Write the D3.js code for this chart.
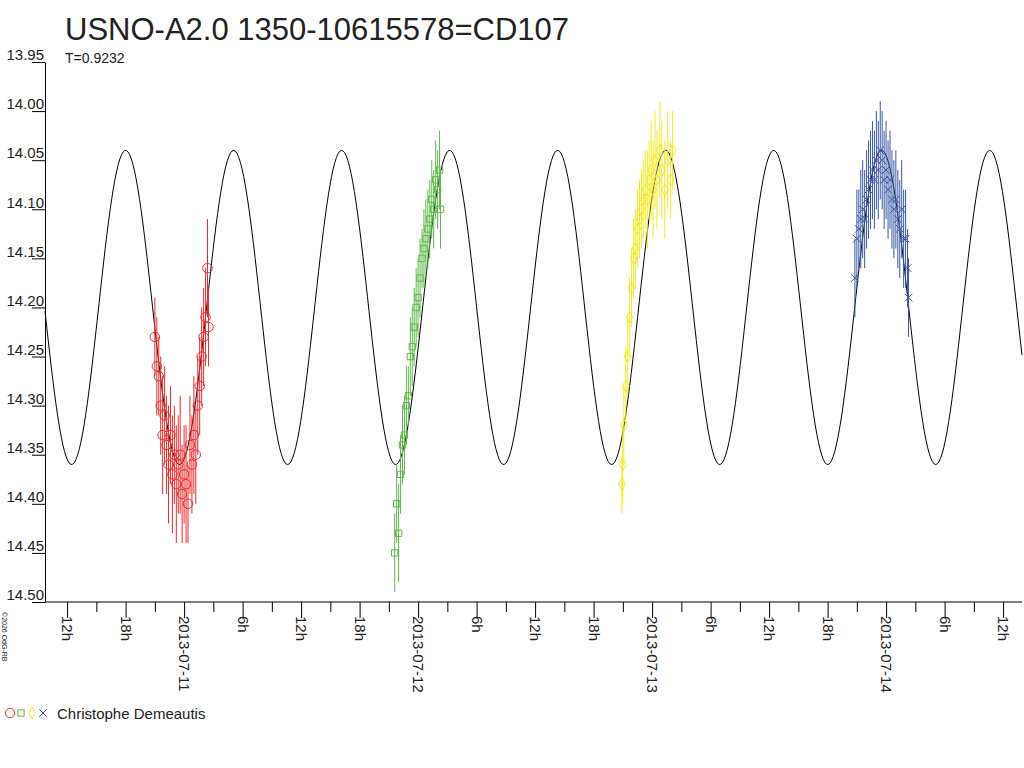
<!DOCTYPE html>
<html><head><meta charset="utf-8">
<script src="https://cdn.jsdelivr.net/npm/d3@7"></script>
<style>body{margin:0;background:#fff;font-family:"Liberation Sans",Arial,sans-serif}</style>
</head><body><div class="lcdiv"></div>
<script>
lcwidth = 1024
lcheight = 768
lcmargin = {top: 62, bottom: 166, left: 45, right: 2}

// hours from midnight of each night's date, magnitude, error
nights = [
 {date: "2013-07-11", color: "#ee2a2a", sym: "circle", pts: [
  [-3.0,14.23,.04],[-2.8,14.26,.05],[-2.6,14.27,.04],[-2.4,14.30,.05],[-2.2,14.33,.06],[-2.0,14.31,.05],
  [-1.8,14.34,.05],[-1.6,14.36,.06],[-1.4,14.33,.05],[-1.2,14.37,.06],[-1.0,14.35,.05],[-0.8,14.38,.06],
  [-0.6,14.36,.05],[-0.4,14.35,.06],[-0.2,14.39,.05],[0.0,14.37,.05],[0.2,14.38,.06],[0.4,14.40,.04],
  [0.6,14.34,.05],[0.8,14.36,.05],[1.0,14.33,.06],[1.2,14.35,.05],[1.4,14.30,.05],[1.6,14.28,.05],
  [1.8,14.25,.05],[2.0,14.23,.05],[2.2,14.21,.05],[2.4,14.16,.05],[2.5,14.22,.04]]},
 {date: "2013-07-12", color: "#5cb84a", sym: "square", pts: [
  [-2.4,14.45,.04],[-2.2,14.40,.04],[-2.0,14.43,.05],[-1.8,14.37,.04],[-1.6,14.34,.04],[-1.4,14.33,.04],
  [-1.2,14.30,.04],[-1.0,14.29,.03],[-0.8,14.25,.04],[-0.6,14.24,.04],[-0.4,14.22,.04],[-0.2,14.20,.04],
  [0.0,14.19,.04],[0.2,14.17,.04],[0.4,14.15,.03],[0.6,14.14,.04],[0.8,14.13,.04],[1.0,14.12,.04],
  [1.2,14.11,.04],[1.4,14.09,.04],[1.6,14.10,.04],[1.8,14.07,.04],[2.0,14.08,.04],[2.2,14.06,.04],[2.3,14.10,.04]]},
 {date: "2013-07-13", color: "#f5e81e", sym: "diamond", pts: [
  [-3.1,14.38,.03],[-3.0,14.36,.04],[-2.9,14.32,.04],[-2.7,14.28,.04],[-2.5,14.25,.04],[-2.3,14.21,.04],
  [-2.1,14.18,.04],[-1.9,14.15,.04],[-1.7,14.14,.04],[-1.5,14.12,.04],[-1.3,14.11,.04],[-1.1,14.10,.04],
  [-0.9,14.09,.04],[-0.7,14.08,.04],[-0.5,14.09,.05],[-0.3,14.07,.04],[-0.1,14.06,.05],[0.1,14.08,.05],[0.3,14.05,.05],
  [0.5,14.07,.05],[0.8,14.04,.05],[1.0,14.06,.05],[1.3,14.08,.05],[1.6,14.05,.05],[1.9,14.07,.04],[2.1,14.04,.04]]},
 {date: "2013-07-14", color: "#3757a5", sym: "cross", pts: [
  [-3.2,14.17,.04],[-3.0,14.13,.05],[-2.8,14.12,.04],[-2.6,14.11,.05],[-2.4,14.10,.05],[-2.2,14.11,.05],
  [-2.0,14.09,.05],[-1.8,14.08,.05],[-1.6,14.07,.05],[-1.4,14.06,.05],[-1.2,14.07,.05],[-1.0,14.05,.05],
  [-0.8,14.06,.05],[-0.6,14.04,.05],[-0.4,14.05,.05],[-0.2,14.07,.05],[0.0,14.06,.05],[0.2,14.08,.05],
  [0.4,14.07,.05],[0.6,14.09,.05],[0.8,14.10,.05],[1.0,14.09,.05],[1.2,14.11,.05],[1.4,14.12,.05],
  [1.6,14.10,.05],[1.8,14.13,.05],[2.0,14.13,.05],[2.2,14.16,.04],[2.3,14.19,.04]]}
]

// model light curve: period and phase of the fitted sine
period = 0.4616
meanmag = 14.20
amp = 0.16
peaktime = new Date(Date.UTC(2013,6,10,18,0))

lcsvg = d3.select(".lcdiv").append("svg")
  .attr("width", lcwidth).attr("height", lcheight)
  .style("font-family", "'Liberation Sans', Arial, sans-serif")

t0 = new Date(Date.UTC(2013,6,10,9,44))
t1 = new Date(t0.getTime() + (lcwidth - lcmargin.left - lcmargin.right) / 234 * 864e5)
xscale = d3.scaleUtc().domain([t0, t1]).range([lcmargin.left, lcwidth - lcmargin.right])
yscale = d3.scaleLinear().domain([13.95, 14.50]).range([lcmargin.top, lcheight - lcmargin.bottom])

// model curve
curvepts = d3.range(0, 601).map(function(i){
  var t = new Date(t0.getTime() + (t1 - t0) * i / 600)
  var ph = (t - peaktime) / 864e5 / period
  return [t, meanmag - amp * Math.cos(2 * Math.PI * ph)]
})
lcsvg.append("path")
  .attr("d", d3.line().x(function(d){ return xscale(d[0]) }).y(function(d){ return yscale(d[1]) })(curvepts))
  .attr("fill", "none").attr("stroke", "#000").attr("stroke-width", 1)

symbols = {circle: d3.symbolCircle, square: d3.symbolSquare, diamond: d3.symbolDiamond, cross: d3.symbolX}
nights.forEach(function(n){
  var base = Date.parse(n.date + "T00:00:00Z")
  var g = lcsvg.append("g")
  n.pts.forEach(function(p){
    var x = xscale(new Date(base + p[0] * 36e5))
    g.append("line").attr("x1", x).attr("x2", x)
      .attr("y1", yscale(p[1] - p[2])).attr("y2", yscale(p[1] + p[2]))
      .attr("stroke", n.color).attr("stroke-width", 1)
    g.append("path").attr("transform", "translate(" + x + "," + yscale(p[1]) + ")")
      .attr("d", d3.symbol().type(symbols[n.sym]).size(n.sym == "circle" ? 70 : 40)())
      .attr("fill", "none").attr("stroke", n.color)
  })
})

// y axis
yaxis = d3.axisLeft(yscale).tickValues(d3.range(13.95, 14.501, 0.05)).tickFormat(d3.format(".2f")).tickSize(0)
yg = lcsvg.append("g").attr("transform", "translate(" + lcmargin.left + ",0)").call(yaxis)
yg.select(".domain").attr("stroke", "#000")
yg.selectAll("text").attr("font-size", 15).attr("fill", "#222").attr("x", -1).attr("dy", "-0.15em")
yg.selectAll(".tick").append("line").attr("x1", -13).attr("x2", 0).attr("stroke", "#000")

// x axis
xaxis = d3.axisBottom(xscale).ticks(d3.utcHour.every(3)).tickSize(10).tickFormat(function(d){
  var h = d.getUTCHours()
  if (h == 0) return d3.utcFormat("%Y-%m-%d")(d)
  if (h % 6 == 0) return h + "h"
  return ""
})
xg = lcsvg.append("g").attr("transform", "translate(0," + yscale(14.50) + ")").call(xaxis)
xg.select(".domain").attr("d", "M" + lcmargin.left + ",0H" + (lcwidth - lcmargin.right)).attr("stroke", "#000")
xg.selectAll(".tick line").attr("y2", function(d){ return d.getUTCHours() % 6 == 0 ? 16 : 10 })
xg.selectAll("text").attr("font-size", 15).attr("fill", "#222")
  .attr("transform", "rotate(90)").attr("text-anchor", "start").attr("x", 14).attr("y", 0).attr("dy", "0.35em")

// titles
lcsvg.append("text").attr("x", 65).attr("y", 40).attr("font-size", 31).attr("fill", "#222").text("USNO-A2.0 1350-10615578=CD107")
lcsvg.append("text").attr("x", 65).attr("y", 63).attr("font-size", 14).attr("fill", "#222").text("T=0.9232")
lcsvg.append("text").attr("transform", "translate(2,612) rotate(90)").attr("font-size", 7).attr("fill", "#222").text("©2026 OdG-RB")

// legend
leg = lcsvg.append("g").attr("transform", "translate(10,713)")
nights.forEach(function(n, i){
  leg.append("path").attr("transform", "translate(" + (i * 11) + ",0)")
    .attr("d", d3.symbol().type(symbols[n.sym]).size(n.sym == "circle" ? 70 : 40)())
    .attr("fill", "none").attr("stroke", n.color)
})
leg.append("text").attr("x", 47).attr("y", 6).attr("font-size", 15).attr("fill", "#222").text("Christophe Demeautis")
</script></body></html>
